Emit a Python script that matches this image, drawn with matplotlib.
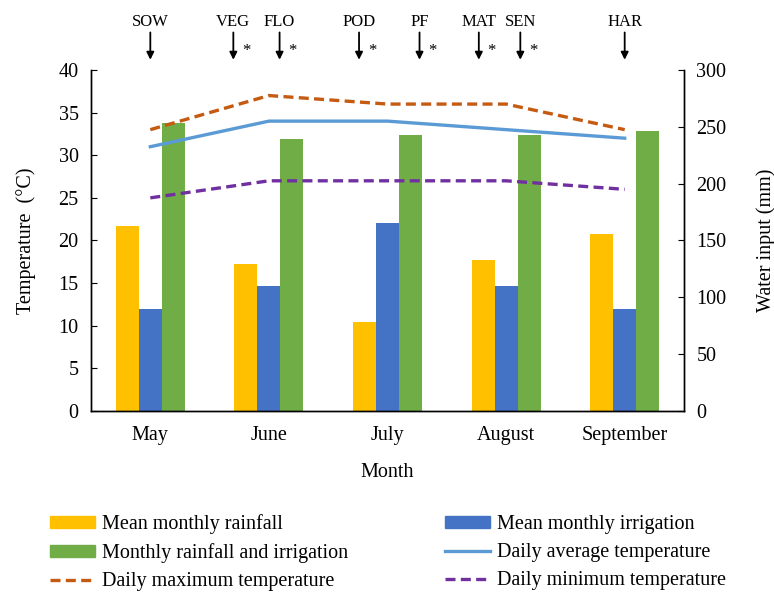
"""Growing-season climate and water input by month, with crop phenology stages."""
import numpy as np
import matplotlib
matplotlib.use("Agg")
import matplotlib.pyplot as plt
from matplotlib.patches import Patch
from matplotlib.lines import Line2D

plt.rcParams["font.family"] = ["Liberation Serif", "DejaVu Serif"]

months = ["May", "June", "July", "August", "September"]

# water input (mm), right axis
rainfall = [163, 129, 78, 133, 156]
irrigation = [90, 110, 165, 110, 90]
rain_irrig = [253, 239, 243, 243, 246]

# temperature (deg C), left axis
t_avg = [31, 34, 34, 33, 32]
t_max = [33, 37, 36, 36, 33]
t_min = [25, 27, 27, 27, 26]

# phenology stages: label, position on the month axis, flagged with *
stages = ["SOW", "VEG", "FLO", "POD", "PF", "MAT", "SEN", "HAR"]
stage_pos = [0.0, 0.70, 1.09, 1.76, 2.27, 2.77, 3.12, 4.0]
stage_flag = [False, True, True, True, True, True, True, False]

C_RAIN = "#FFC000"
C_IRR = "#4472C4"
C_SUM = "#70AD47"
C_AVG = "#5B9BD5"
C_MAX = "#C55A11"
C_MIN = "#7030A0"
FS = 14.5
DASH = (0, (3, 1.6))

fig = plt.figure(figsize=(7.74, 5.93), dpi=100)
ax = fig.add_axes([0.1176, 0.3069, 0.7661, 0.5751])
ax2 = ax.twinx()

x = np.arange(len(months))
w = 0.194
ax2.bar(x - w, rainfall, width=w, color=C_RAIN)
ax2.bar(x, irrigation, width=w, color=C_IRR)
ax2.bar(x + w, rain_irrig, width=w, color=C_SUM)

# temperature lines drawn over the bars
ax.set_zorder(ax2.get_zorder() + 1)
ax.patch.set_visible(False)
ax.plot(x, t_max, color=C_MAX, lw=2.4, ls=DASH)
ax.plot(x, t_avg, color=C_AVG, lw=2.4)
ax.plot(x, t_min, color=C_MIN, lw=2.4, ls=DASH)

ax.set_xlim(-0.5, len(months) - 0.5)
ax.set_ylim(0, 40)
ax.set_yticks(range(0, 41, 5))
ax2.set_ylim(0, 300)
ax2.set_yticks(range(0, 301, 50))
ax.set_xticks(x)
ax.set_xticklabels(months)

for a in (ax, ax2):
    a.spines["top"].set_visible(False)
    for s in a.spines.values():
        s.set_linewidth(1.0)
ax.tick_params(axis="x", length=0, labelsize=FS, pad=11)
ax.tick_params(axis="y", direction="in", length=4, labelsize=FS, pad=9)
ax2.tick_params(axis="y", direction="in", length=4, labelsize=FS, pad=9)

ax.set_xlabel("Month", fontsize=FS, labelpad=13)
ax.set_ylabel("Temperature  (°C)", fontsize=FS, labelpad=16)
ax2.set_ylabel("Water input (mm)", fontsize=FS, labelpad=21)

# phenology markers above the plot area
tr = ax.get_xaxis_transform()
for name, px, flag in zip(stages, stage_pos, stage_flag):
    ax.text(px, 1.141, name, transform=tr, ha="center", va="center",
            fontsize=12, clip_on=False)
    ax.annotate("", xy=(px, 1.03), xytext=(px, 1.11), xycoords=tr, textcoords=tr,
                arrowprops=dict(arrowstyle="-|>", color="black", lw=1.3,
                                mutation_scale=11, shrinkA=0, shrinkB=0),
                annotation_clip=False)
    if flag:
        ax.text(px + 0.11, 1.055, "*", transform=tr, ha="center", va="center",
                fontsize=12, clip_on=False)

handles = [
    Patch(color=C_RAIN, label="Mean monthly rainfall"),
    Patch(color=C_SUM, label="Monthly rainfall and irrigation"),
    Line2D([], [], color=C_MAX, lw=2.4, ls=DASH, label="Daily maximum temperature"),
    Patch(color=C_IRR, label="Mean monthly irrigation"),
    Line2D([], [], color=C_AVG, lw=2.4, label="Daily average temperature"),
    Line2D([], [], color=C_MIN, lw=2.4, ls=DASH, label="Daily minimum temperature"),
]
fig.legend(handles=handles, ncol=2, loc="upper left", bbox_to_anchor=(0.065, 0.133),
           frameon=False, fontsize=FS, handlelength=2.2, handleheight=0.5,
           handletextpad=0.35, columnspacing=4.85, labelspacing=0.45,
           borderaxespad=0, borderpad=0)

fig.savefig("out.png", dpi=100)
